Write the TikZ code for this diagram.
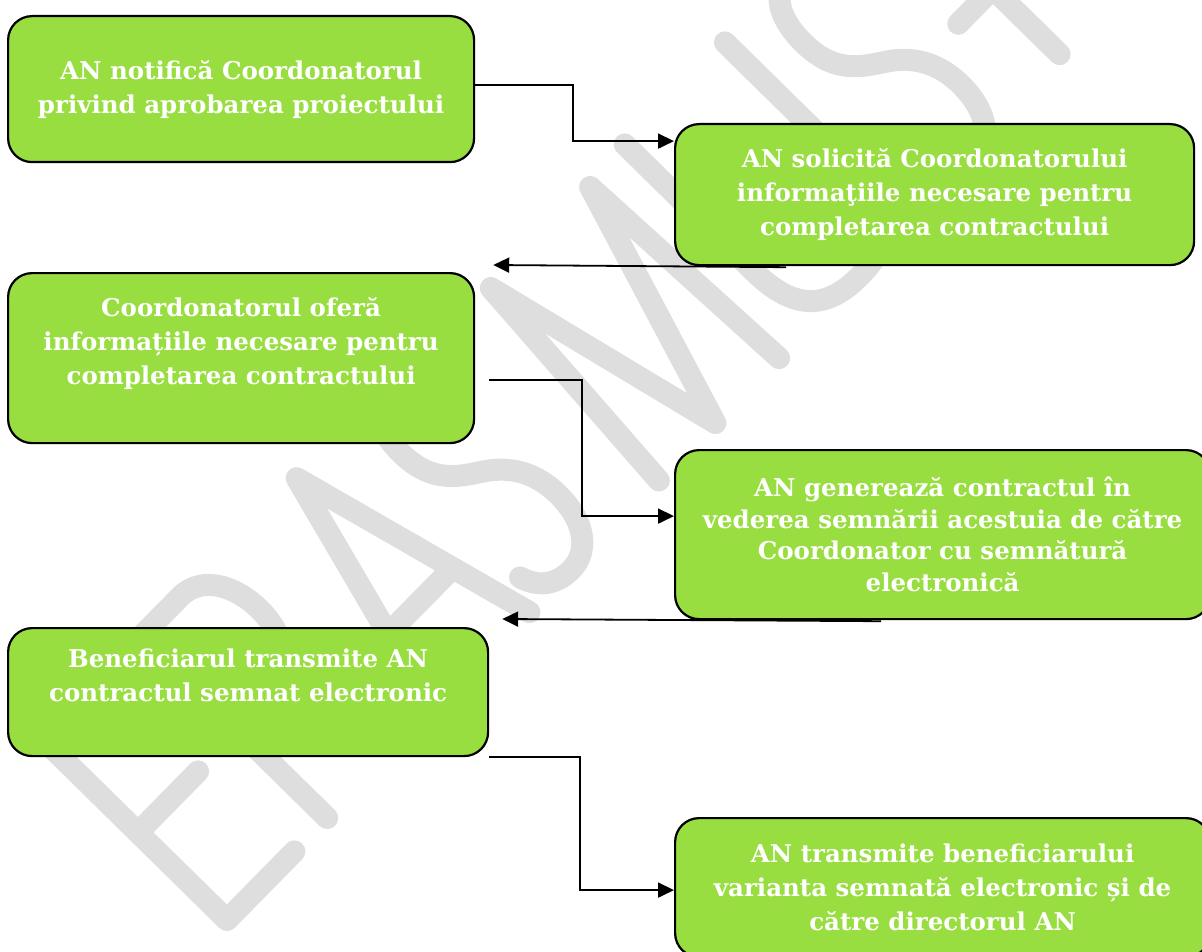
\documentclass[tikz,border=0pt]{standalone}
\usepackage{fontspec}
\setmainfont{DejaVu Serif}
\usetikzlibrary{arrows.meta}
\definecolor{boxgreen}{RGB}{153,222,64}
\definecolor{wmgray}{RGB}{222,222,222}
\begin{document}
\begin{tikzpicture}[x=1pt,y=-1pt,
  box/.style={draw=black, line width=2.2pt, fill=boxgreen, rounded corners=24pt,
    anchor=north west, inner sep=0pt, align=center, text=white,
    font=\bfseries\fontsize{24.5}{34}\selectfont},
  arr/.style={line width=1.8pt, -{Triangle[length=16pt,width=15pt]}},
  wm/.style={line width=22pt, line cap=round, line join=round, draw=wmgray}]

\useasboundingbox (0,0) rectangle (1202,952);
\clip (0,0) rectangle (1202,952);

% watermark ERASMUS+
\begin{scope}[shift={(227,920)}, rotate=45.5, x=260pt, y=260pt]
  \draw[wm] (0.37,1)--(0,1)--(0,0)--(0.37,0) (0,0.48)--(0.33,0.48);
  \draw[wm] (0.55,0)--(0.55,1)--(0.76,1) .. controls (1.0,1) and (1.0,0.5) .. (0.76,0.5)--(0.55,0.5) (0.74,0.5)--(1.0,0);
  \draw[wm] (1.13,0)--(1.40,1)--(1.66,0) (1.22,0.33)--(1.57,0.33);
  \draw[wm] (2.03,0.87) .. controls (1.99,0.96) and (1.95,1.0) .. (1.89,1.0)
     .. controls (1.79,1.0) and (1.75,0.9) .. (1.75,0.78)
     .. controls (1.75,0.6) and (1.86,0.55) .. (1.93,0.5)
     .. controls (2.0,0.45) and (2.06,0.37) .. (2.06,0.24)
     .. controls (2.06,0.08) and (1.98,0) .. (1.89,0)
     .. controls (1.8,0) and (1.75,0.05) .. (1.73,0.12);
  \draw[wm] (2.37,0)--(2.445,0.98)--(2.68,0)--(2.99,0.98)--(3.03,0);
  \draw[wm] (3.2,1)--(3.2,0.3) .. controls (3.2,0.05) and (3.33,0) .. (3.475,0)
     .. controls (3.62,0) and (3.75,0.05) .. (3.75,0.3)--(3.75,1);
  \draw[wm] (4.24,0.87) .. controls (4.20,0.96) and (4.16,1.0) .. (4.10,1.0)
     .. controls (4.00,1.0) and (3.96,0.9) .. (3.96,0.78)
     .. controls (3.96,0.6) and (4.07,0.55) .. (4.14,0.5)
     .. controls (4.21,0.45) and (4.27,0.37) .. (4.27,0.24)
     .. controls (4.27,0.08) and (4.19,0) .. (4.10,0)
     .. controls (4.01,0) and (3.96,0.05) .. (3.94,0.12);
  \draw[wm] (4.43,0.41)--(4.85,0.41) (4.62,0.05)--(4.62,0.78);
\end{scope}

% boxes
\node[box, minimum width=466pt, minimum height=146pt] (b1) at (7,15)
  {AN notifică Coordonatorul\\privind aprobarea proiectului};
\node[box, minimum width=519pt, minimum height=141pt] (b2) at (674,123)
  {AN solicită Coordonatorului\\informaţiile necesare pentru\\completarea contractului};
\node[box, minimum width=466pt, minimum height=170pt] (b3) at (7,272)
  {Coordonatorul oferă\\informațiile necesare pentru\\completarea contractului\\~};
\node[box, minimum width=535pt, minimum height=169pt,
      font=\bfseries\fontsize{24.5}{31.5}\selectfont] (b4) at (674,449)
  {AN generează contractul în\\vederea semnării acestuia de către\\Coordonator cu semnătură\\electronică};
\node[box, minimum width=480pt, minimum height=128pt] (b5) at (7,627)
  {Beneficiarul transmite AN\\contractul semnat electronic\\~};
\node[box, minimum width=535pt, minimum height=139pt] (b6) at (674,817)
  {AN transmite beneficiarului\\varianta semnată electronic și de\\către directorul AN};

% connectors
\draw[arr] ([yshift=4pt]b1.east) -| ([xshift=-101pt,yshift=53.5pt]b2.west) -- ([yshift=53.5pt]b2.west);
\draw[arr] ([xshift=-148.5pt,yshift=-1pt]b2.south) -- ([xshift=18pt,yshift=7pt]b3.north east);
\draw[arr] ([xshift=14pt,yshift=-22pt]b3.east) -| ([xshift=-92pt,yshift=18.5pt]b4.west) -- ([yshift=18.5pt]b4.west);
\draw[arr] ([xshift=-61.5pt,yshift=-1pt]b4.south) -- ([xshift=13pt,yshift=8pt]b5.north east);
\draw[arr] (b5.south east) -| ([xshift=-94pt,yshift=-2.5pt]b6.west) -- ([yshift=-2.5pt]b6.west);
\end{tikzpicture}
\end{document}
